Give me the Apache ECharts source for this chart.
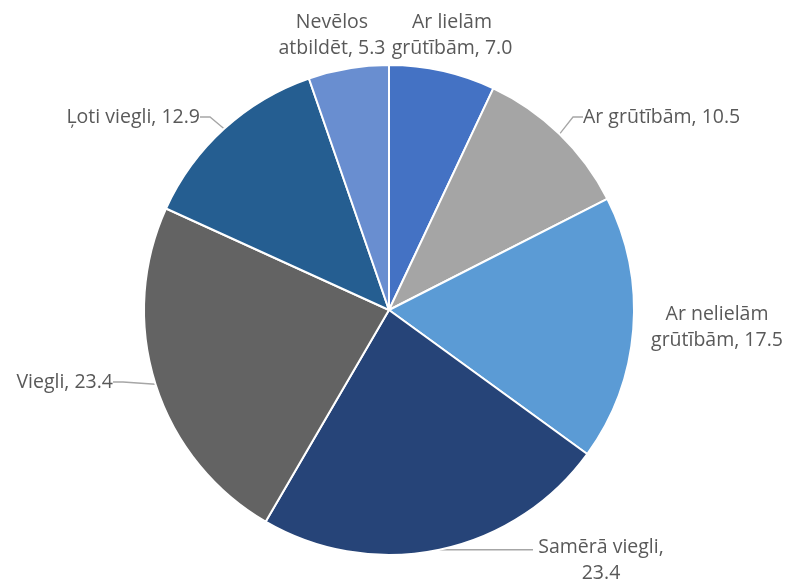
<!DOCTYPE html>
<html>
<head>
<meta charset="utf-8">
<script src="https://cdn.jsdelivr.net/npm/echarts@6/dist/echarts.min.js"></script>
<style>
html,body{margin:0;padding:0;background:#fff;}
#chart{width:787px;height:579px;}
</style>
</head>
<body>
<div id="chart"></div>
<script>
const categories = ['Ar lielām grūtībām', 'Ar grūtībām', 'Ar nelielām grūtībām', 'Samērā viegli', 'Viegli', 'Ļoti viegli', 'Nevēlos atbildēt'];
const labelTexts = ['Ar lielām\ngrūtībām, 7.0', 'Ar grūtībām, 10.5', 'Ar nelielām\ngrūtībām, 17.5', 'Samērā viegli,\n23.4', 'Viegli, 23.4', 'Ļoti viegli, 12.9', 'Nevēlos\natbildēt, 5.3'];
const values = [7.0, 10.5, 17.5, 23.4, 23.4, 12.9, 5.3];
const colors = ['#4472C4', '#A5A5A5', '#5B9BD5', '#264478', '#636363', '#255E91', '#698ED0'];
const showLines = [false, true, false, true, true, true, false];

// label anchor layout (x, y of label, alignment); lineEndX: horizontal leader end
const labelPos = [
  {x: 452, y: 35, align: 'center'},
  {x: 583, y: 117, align: 'left'},
  {x: 717, y: 327, align: 'center'},
  {x: 601, y: 560, align: 'center', lineEndX: 533},
  {x: 113, y: 382, align: 'right'},
  {x: 200, y: 117, align: 'right'},
  {x: 332, y: 35, align: 'center'}
];

const chart = echarts.init(document.getElementById('chart'), null, {renderer: 'canvas'});
chart.setOption({
  backgroundColor: '#ffffff',
  animation: false,
  series: [{
    type: 'pie',
    center: [389, 310],
    radius: [0, 245],
    startAngle: 90,
    clockwise: true,
    itemStyle: {borderColor: '#ffffff', borderWidth: 2},
    label: {
      show: true,
      position: 'outside',
      alignTo: 'none',
      overflow: 'none',
      fontFamily: 'Open Sans',
      fontSize: 19.5,
      lineHeight: 26,
      color: '#595959',
      align: 'center',
      formatter: p => labelTexts[p.dataIndex]
    },
    labelLine: {
      show: true,
      length: 10,
      length2: 10,
      lineStyle: {color: '#A6A6A6', width: 1.3}
    },
    labelLayout: function (params) {
      const lp = labelPos[params.dataIndex];
      const out = {x: lp.x, y: lp.y, align: lp.align, verticalAlign: 'middle', hideOverlap: false};
      if (lp.lineEndX != null && params.labelLinePoints && params.labelLinePoints.length) {
        const p0 = params.labelLinePoints[0];
        out.labelLinePoints = [[p0[0], p0[1]], [(p0[0] + lp.lineEndX) / 2, p0[1]], [lp.lineEndX, p0[1]]];
      }
      return out;
    },
    data: values.map((v, i) => ({
      name: categories[i],
      value: v,
      itemStyle: {color: colors[i]},
      labelLine: {show: showLines[i]}
    }))
  }]
});
</script>
</body>
</html>
